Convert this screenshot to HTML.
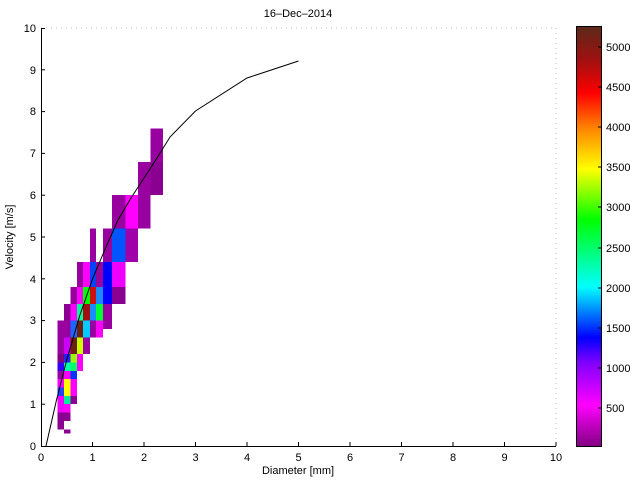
<!DOCTYPE html>
<html><head><meta charset="utf-8"><style>
html,body{margin:0;padding:0;background:#fff;width:640px;height:480px;overflow:hidden}
svg{display:block;font-family:"Liberation Sans",sans-serif;font-size:11px}
</style></head><body>
<svg width="640" height="480" xmlns="http://www.w3.org/2000/svg">
<defs>
<linearGradient id="cb" x1="0" y1="1" x2="0" y2="0">
<stop offset="0" stop-color="#800080"/>
<stop offset="0.1" stop-color="#ff00ff"/>
<stop offset="0.2" stop-color="#8000ff"/>
<stop offset="0.26" stop-color="#0000ff"/>
<stop offset="0.38" stop-color="#00ffff"/>
<stop offset="0.54" stop-color="#00ff00"/>
<stop offset="0.66" stop-color="#ffff00"/>
<stop offset="0.76" stop-color="#ff8000"/>
<stop offset="0.84" stop-color="#ff0000"/>
<stop offset="0.92" stop-color="#a01010"/>
<stop offset="1" stop-color="#5a2a1a"/>
</linearGradient>
</defs>
<text x="298" y="17" text-anchor="middle">16–Dec–2014</text>
<g transform="translate(41,446) scale(51.5,-41.8)" shape-rendering="crispEdges">
<rect x="0.32" y="2.2" width="0.13" height="0.8" fill="#9900a0"/>
<rect x="0.32" y="2.0" width="0.13" height="0.2" fill="#800080"/>
<rect x="0.32" y="1.8" width="0.13" height="0.2" fill="#3300ff"/>
<rect x="0.32" y="1.6" width="0.13" height="0.2" fill="#9900a0"/>
<rect x="0.32" y="1.4" width="0.13" height="0.2" fill="#ff00ff"/>
<rect x="0.32" y="1.2" width="0.13" height="0.2" fill="#2244ff"/>
<rect x="0.32" y="0.8" width="0.13" height="0.4" fill="#ee00ff"/>
<rect x="0.32" y="0.4" width="0.13" height="0.4" fill="#8a0090"/>
<rect x="0.45" y="3.0" width="0.12" height="0.4" fill="#8a0090"/>
<rect x="0.45" y="2.6" width="0.12" height="0.4" fill="#9900a0"/>
<rect x="0.45" y="2.2" width="0.12" height="0.4" fill="#cc00ff"/>
<rect x="0.45" y="2.0" width="0.12" height="0.2" fill="#2222ff"/>
<rect x="0.45" y="1.8" width="0.12" height="0.2" fill="#00ffaa"/>
<rect x="0.45" y="1.6" width="0.12" height="0.2" fill="#ff00ff"/>
<rect x="0.45" y="1.2" width="0.12" height="0.4" fill="#ffff00"/>
<rect x="0.45" y="1.0" width="0.12" height="0.2" fill="#00ee99"/>
<rect x="0.45" y="0.8" width="0.12" height="0.2" fill="#ff00ff"/>
<rect x="0.45" y="0.6" width="0.12" height="0.2" fill="#8a0090"/>
<rect x="0.45" y="0.3" width="0.12" height="0.1" fill="#8a0090"/>
<rect x="0.57" y="3.4" width="0.13" height="0.4" fill="#9900a0"/>
<rect x="0.57" y="3.0" width="0.13" height="0.4" fill="#ff00ff"/>
<rect x="0.57" y="2.6" width="0.13" height="0.4" fill="#1a66ff"/>
<rect x="0.57" y="2.2" width="0.13" height="0.4" fill="#6b2010"/>
<rect x="0.57" y="2.0" width="0.13" height="0.2" fill="#99ff00"/>
<rect x="0.57" y="1.8" width="0.13" height="0.2" fill="#00ff66"/>
<rect x="0.57" y="1.6" width="0.13" height="0.2" fill="#0033ff"/>
<rect x="0.57" y="1.2" width="0.13" height="0.4" fill="#ff00ff"/>
<rect x="0.57" y="1.0" width="0.13" height="0.2" fill="#8a0090"/>
<rect x="0.70" y="3.8" width="0.12" height="0.6" fill="#9900a0"/>
<rect x="0.70" y="3.4" width="0.12" height="0.4" fill="#ff00ff"/>
<rect x="0.70" y="3.0" width="0.12" height="0.4" fill="#00ff99"/>
<rect x="0.70" y="2.6" width="0.12" height="0.4" fill="#6b2010"/>
<rect x="0.70" y="2.2" width="0.12" height="0.4" fill="#ccff00"/>
<rect x="0.70" y="1.8" width="0.12" height="0.4" fill="#ff00ff"/>
<rect x="0.82" y="3.8" width="0.13" height="0.6" fill="#ff00ff"/>
<rect x="0.82" y="3.4" width="0.13" height="0.4" fill="#00ff00"/>
<rect x="0.82" y="3.0" width="0.13" height="0.4" fill="#a01010"/>
<rect x="0.82" y="2.6" width="0.13" height="0.4" fill="#00ccff"/>
<rect x="0.82" y="2.2" width="0.13" height="0.4" fill="#9900a0"/>
<rect x="0.95" y="4.4" width="0.12" height="0.8" fill="#9900a0"/>
<rect x="0.95" y="3.8" width="0.12" height="0.6" fill="#0044ff"/>
<rect x="0.95" y="3.4" width="0.12" height="0.4" fill="#cc1010"/>
<rect x="0.95" y="3.0" width="0.12" height="0.4" fill="#1a8cff"/>
<rect x="0.95" y="2.6" width="0.12" height="0.4" fill="#9900a0"/>
<rect x="1.07" y="3.8" width="0.13" height="0.6" fill="#9900a0"/>
<rect x="1.07" y="3.4" width="0.13" height="0.4" fill="#1a8cff"/>
<rect x="1.07" y="3.0" width="0.13" height="0.4" fill="#00ff33"/>
<rect x="1.07" y="2.6" width="0.13" height="0.4" fill="#ff00ff"/>
<rect x="1.20" y="4.4" width="0.18" height="0.8" fill="#9900a0"/>
<rect x="1.20" y="3.4" width="0.18" height="1.0" fill="#0000ff"/>
<rect x="1.20" y="2.8" width="0.18" height="0.6" fill="#9900a0"/>
<rect x="1.38" y="5.2" width="0.26" height="0.8" fill="#9900a0"/>
<rect x="1.38" y="4.4" width="0.26" height="0.8" fill="#0055ff"/>
<rect x="1.38" y="3.8" width="0.26" height="0.6" fill="#ee00ff"/>
<rect x="1.38" y="3.4" width="0.26" height="0.4" fill="#8a0090"/>
<rect x="1.64" y="5.2" width="0.24" height="0.8" fill="#ff00ff"/>
<rect x="1.64" y="4.4" width="0.24" height="0.8" fill="#a000aa"/>
<rect x="1.88" y="6.0" width="0.25" height="0.8" fill="#9900a0"/>
<rect x="1.88" y="5.2" width="0.25" height="0.8" fill="#9900a0"/>
<rect x="2.13" y="6.8" width="0.24" height="0.8" fill="#9900a0"/>
<rect x="2.13" y="6.0" width="0.24" height="0.8" fill="#8a0090"/>
</g>
<polyline fill="none" stroke="#000" stroke-width="1" points="46,446 56.5,400 66.7,360 79.6,316 92.5,279 106,247 118,220 131,198 144,178 157,158 170,137 195.5,111 247,78 298.5,61"/>
<line x1="41" y1="28" x2="556" y2="28" stroke="#bbb" stroke-dasharray="1,4"/>
<line x1="556" y1="28" x2="556" y2="446" stroke="#bbb" stroke-dasharray="1,4"/>
<line x1="41.5" y1="28" x2="41.5" y2="446.5" stroke="#000"/>
<line x1="41" y1="446.5" x2="556" y2="446.5" stroke="#000"/>
<g stroke="#000">
<line x1="41" y1="404.2" x2="45" y2="404.2"/><line x1="41" y1="362.4" x2="45" y2="362.4"/><line x1="41" y1="320.6" x2="45" y2="320.6"/><line x1="41" y1="278.8" x2="45" y2="278.8"/><line x1="41" y1="237" x2="45" y2="237"/><line x1="41" y1="195.2" x2="45" y2="195.2"/><line x1="41" y1="153.4" x2="45" y2="153.4"/><line x1="41" y1="111.6" x2="45" y2="111.6"/><line x1="41" y1="69.8" x2="45" y2="69.8"/><line x1="41" y1="28.5" x2="45" y2="28.5"/>
<line x1="92.5" y1="446" x2="92.5" y2="442"/><line x1="144" y1="446" x2="144" y2="442"/><line x1="195.5" y1="446" x2="195.5" y2="442"/><line x1="247" y1="446" x2="247" y2="442"/><line x1="298.5" y1="446" x2="298.5" y2="442"/><line x1="350" y1="446" x2="350" y2="442"/><line x1="401.5" y1="446" x2="401.5" y2="442"/><line x1="453" y1="446" x2="453" y2="442"/><line x1="504.5" y1="446" x2="504.5" y2="442"/><line x1="556" y1="446" x2="556" y2="442"/>
</g>
<g text-anchor="end">
<text x="36" y="450">0</text><text x="36" y="408">1</text><text x="36" y="366">2</text><text x="36" y="324">3</text><text x="36" y="283">4</text><text x="36" y="241">5</text><text x="36" y="199">6</text><text x="36" y="157">7</text><text x="36" y="115">8</text><text x="36" y="74">9</text><text x="36" y="32">10</text>
</g>
<g text-anchor="middle">
<text x="41" y="461">0</text><text x="92.5" y="461">1</text><text x="144" y="461">2</text><text x="195.5" y="461">3</text><text x="247" y="461">4</text><text x="298.5" y="461">5</text><text x="350" y="461">6</text><text x="401.5" y="461">7</text><text x="453" y="461">8</text><text x="504.5" y="461">9</text><text x="556" y="461">10</text>
</g>
<text x="298" y="474" text-anchor="middle">Diameter [mm]</text>
<text transform="translate(13,237) rotate(-90)" text-anchor="middle">Velocity [m/s]</text>
<rect x="576" y="26" width="26" height="421" fill="url(#cb)"/>
<rect x="576.5" y="26.5" width="25" height="420" fill="none" stroke="#000"/>
<g stroke="#000">
<line x1="598" y1="408" x2="602" y2="408"/><line x1="598" y1="368" x2="602" y2="368"/><line x1="598" y1="328" x2="602" y2="328"/><line x1="598" y1="288" x2="602" y2="288"/><line x1="598" y1="248" x2="602" y2="248"/><line x1="598" y1="207" x2="602" y2="207"/><line x1="598" y1="167" x2="602" y2="167"/><line x1="598" y1="127" x2="602" y2="127"/><line x1="598" y1="87" x2="602" y2="87"/><line x1="598" y1="47" x2="602" y2="47"/>
</g>
<g>
<text x="606" y="412">500</text><text x="606" y="372">1000</text><text x="606" y="332">1500</text><text x="606" y="292">2000</text><text x="606" y="252">2500</text><text x="606" y="211">3000</text><text x="606" y="171">3500</text><text x="606" y="131">4000</text><text x="606" y="91">4500</text><text x="606" y="51">5000</text>
</g>
</svg>
</body></html>
